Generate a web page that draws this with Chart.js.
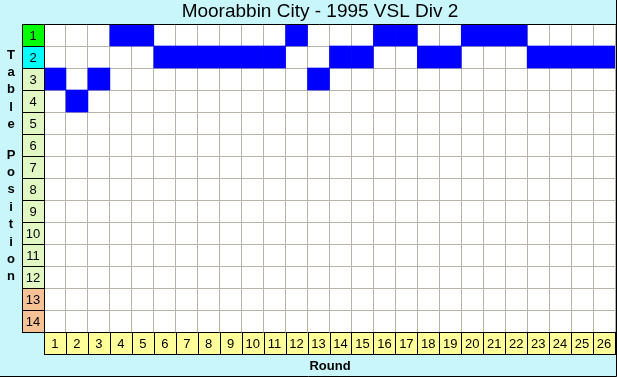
<!DOCTYPE html>
<html>
<head>
<meta charset="utf-8">
<script src="https://cdn.jsdelivr.net/npm/chart.js@4"></script>
<style>
  html, body { margin: 0; padding: 0; background: #c8f6fa; }
  #wrap { width: 617px; height: 377px; position: relative; }
</style>
</head>
<body>
<div id="wrap"><canvas id="c" width="617" height="377"></canvas></div>
<script>
// rounds along the bottom, ladder positions down the side
const rounds = Array.from({ length: 26 }, (_, i) => String(i + 1));
const positionLabels = ["1", "2", "3", "4", "5", "6", "7", "8", "9", "10", "11", "12", "13", "14"];
const positions = [3, 4, 3, 1, 1, 2, 2, 2, 2, 2, 2, 1, 3, 2, 2, 1, 1, 2, 2, 1, 1, 1, 2, 2, 2, 2];

const titleText = "Moorabbin City - 1995 VSL Div 2";
const yTitle = "Table Position";
const xTitle = "Round";

function labelColor(i) {
  if (i === 0) return "#00ff00";
  if (i === 1) return "#00ffff";
  if (i >= 12) return "#f6c194";
  return "#e2f8c2";
}

// draws title, axis captions and the coloured label cells around the grid
const frame = {
  id: "frame",
  beforeDraw(chart) {
    const { ctx, chartArea: a } = chart;
    ctx.save();
    ctx.fillStyle = "#ffffff";
    ctx.fillRect(a.left, a.top, a.right - a.left, a.bottom - a.top);
    ctx.restore();
  },
  afterDraw(chart) {
    const { ctx, chartArea: a, scales: { x, y } } = chart;
    ctx.save();
    ctx.textAlign = "center";
    ctx.textBaseline = "middle";

    // side labels
    const lx = 22;
    positionLabels.forEach((lab, i) => {
      const t = y.getPixelForValue(i + 0.5);
      const b = y.getPixelForValue(i + 1.5);
      ctx.fillStyle = labelColor(i);
      ctx.fillRect(lx, t, a.left - lx, b - t);
      ctx.strokeStyle = "#000";
      ctx.lineWidth = 1;
      ctx.strokeRect(lx + 0.5, Math.round(t) + 0.5, a.left - lx, Math.round(b - t));
      ctx.fillStyle = "#000";
      ctx.font = "13px 'Liberation Sans', Arial, sans-serif";
      ctx.fillText(lab, (lx + a.left) / 2, (t + b) / 2 + 1);
    });

    // bottom labels
    const colW = x.getPixelForValue(1) - x.getPixelForValue(0);
    rounds.forEach((lab, i) => {
      const cx = x.getPixelForValue(i);
      const l = cx - colW / 2;
      ctx.fillStyle = "#ffff99";
      ctx.fillRect(l, a.bottom, colW, 22);
      ctx.strokeStyle = "#000";
      ctx.strokeRect(Math.round(l) + 0.5, a.bottom + 0.5, Math.round(colW), 22);
      ctx.fillStyle = "#000";
      ctx.font = "13px 'Liberation Sans', Arial, sans-serif";
      ctx.fillText(lab, cx, a.bottom + 12);
    });

    // top rule of plot
    ctx.strokeStyle = "#000";
    ctx.beginPath();
    ctx.moveTo(lx, a.top + 0.5);
    ctx.lineTo(617, a.top + 0.5);
    ctx.stroke();

    // outer border (right / bottom)
    ctx.beginPath();
    ctx.moveTo(616.5, 0);
    ctx.lineTo(616.5, 376.5);
    ctx.lineTo(0, 376.5);
    ctx.stroke();

    // title
    ctx.fillStyle = "#000";
    ctx.font = "19px 'Liberation Sans', Arial, sans-serif";
    ctx.fillText(titleText, 320, 12);

    // axis captions
    ctx.font = "bold 13px 'Liberation Sans', Arial, sans-serif";
    ctx.fillText(xTitle, 330, 366);
    let yy = 55;
    for (const ch of yTitle) {
      if (ch === " ") { yy += 13; continue; }
      ctx.fillText(ch, 11, yy);
      yy += 17.4;
    }
    ctx.restore();
  }
};

new Chart(document.getElementById("c"), {
  type: "bar",
  data: {
    labels: rounds,
    datasets: [{
      data: positions.map(p => [p - 0.5, p + 0.5]),
      backgroundColor: "#0000ff",
      borderWidth: 0,
      categoryPercentage: 1,
      barPercentage: 1
    }]
  },
  options: {
    responsive: false,
    animation: false,
    layout: { padding: { left: 44, top: 24, right: 2, bottom: 45 } },
    plugins: { legend: { display: false }, tooltip: { enabled: false } },
    scales: {
      x: {
        ticks: { display: false },
        grid: { color: "#b8b4aa", offset: true, drawTicks: false },
        border: { display: false },
        afterFit: s => { s.height = 0; }
      },
      y: {
        reverse: true,
        min: 0.5,
        max: 14.5,
        afterBuildTicks: s => { s.ticks = positionLabels.map((_, i) => ({ value: i + 0.5 })).concat([{ value: 14.5 }]); },
        ticks: { display: false },
        grid: { color: "#b8b4aa", drawTicks: false },
        border: { display: false },
        afterFit: s => { s.width = 0; }
      }
    }
  },
  plugins: [frame]
});
</script>
</body>
</html>
